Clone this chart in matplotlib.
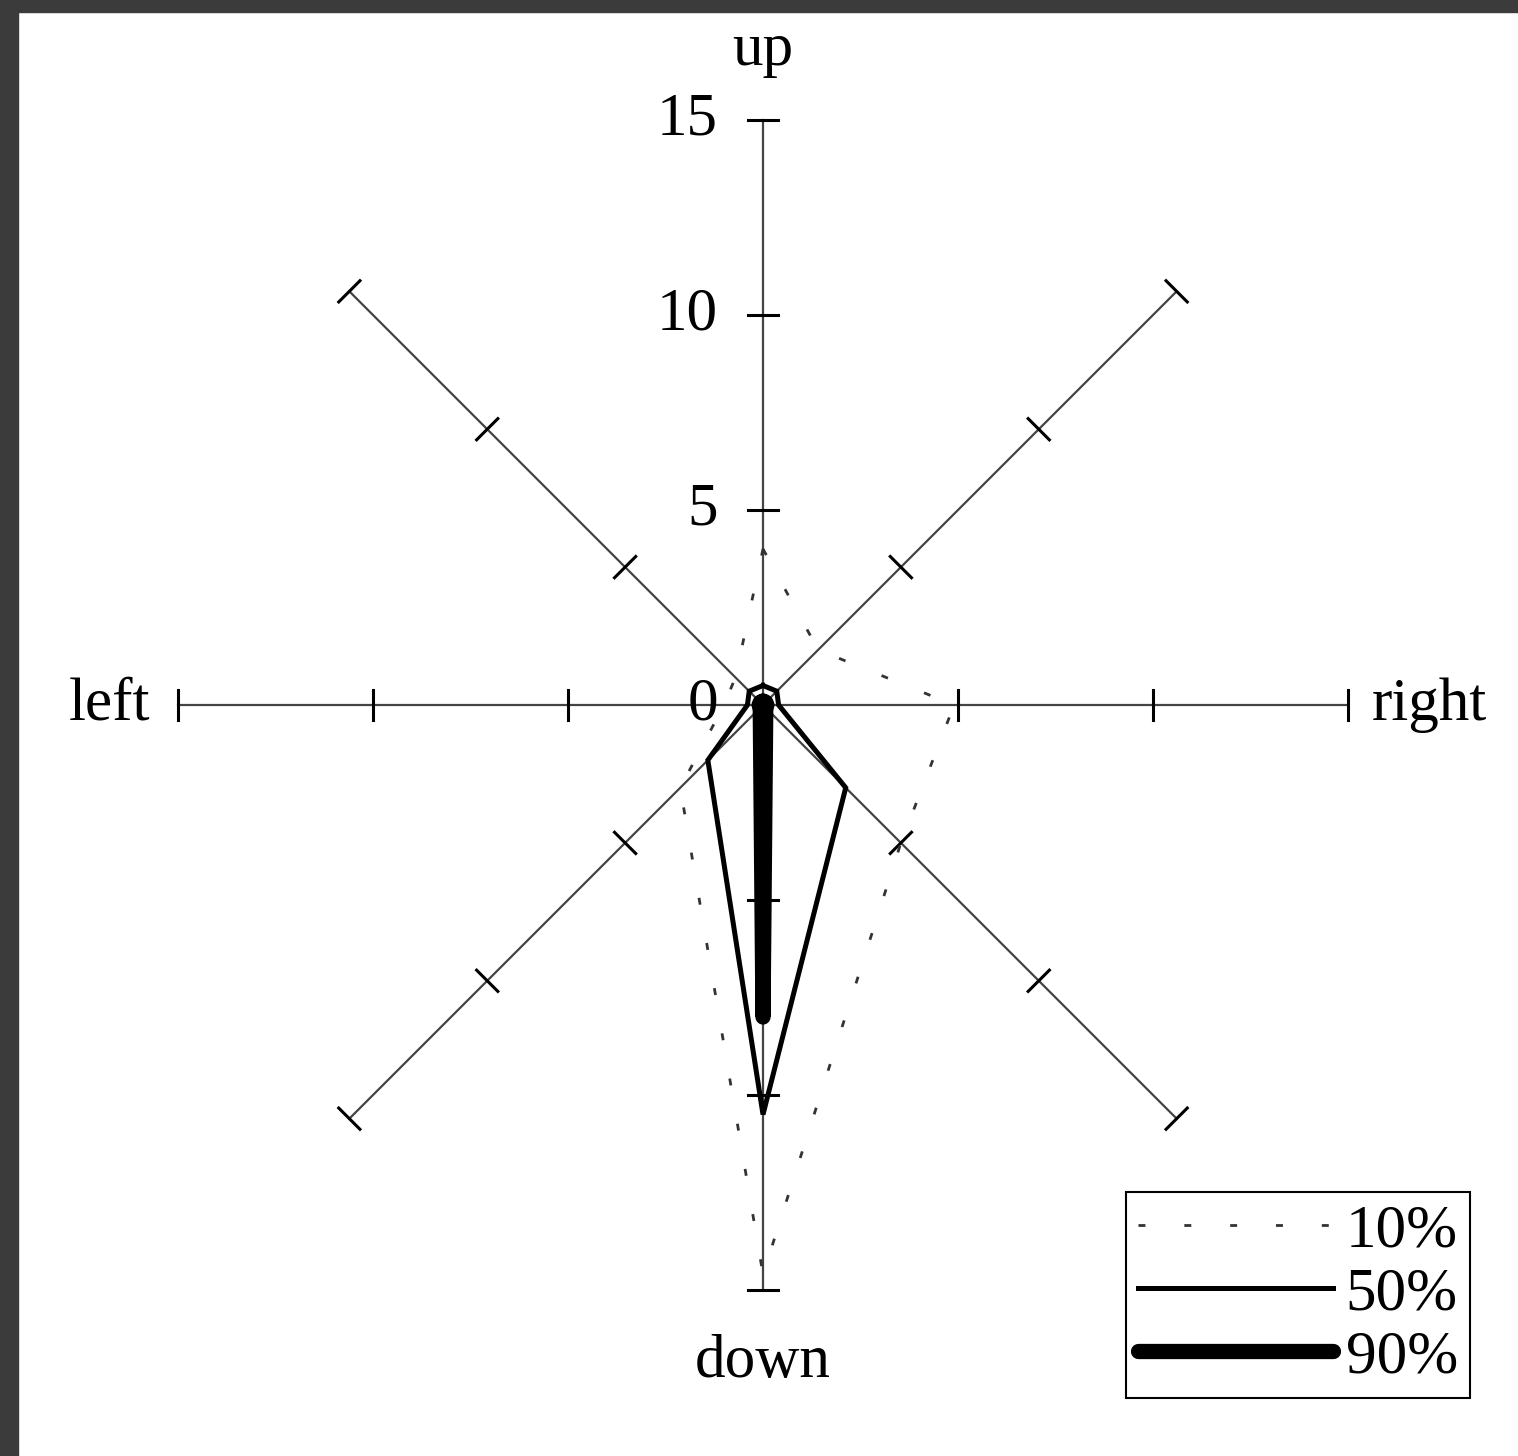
import numpy as np
import matplotlib
matplotlib.use('Agg')
import matplotlib.pyplot as plt
from matplotlib.patches import Rectangle

plt.rcParams['font.family'] = ['Liberation Serif', 'DejaVu Serif']

# directions of the 8 axes (degrees, counter-clockwise from right)
directions = ['up', 'up-right', 'right', 'down-right', 'down', 'down-left', 'left', 'up-left']
angles = [90, 45, 0, -45, -90, -135, 180, 135]
ticks = [5, 10, 15]
tick_labels = ['5', '10', '15']

# percentiles
p10 = [4.0, 2.0, 4.9, 5.0, 14.6, 3.0, 1.0, 1.0]
p50 = [0.5, 0.5, 0.4, 3.0, 10.5, 2.0, 0.4, 0.5]
p90 = [0.1, 0.1, 0.1, 0.1, 8.0, 0.1, 0.1, 0.1]

W, H, dpi = 1518, 1456, 100
cx, cy, scale = 763, 705, 39.0   # centre in pixels, pixels per unit

fig = plt.figure(figsize=(W / dpi, H / dpi), dpi=dpi)
ax = fig.add_axes([0, 0, 1, 1])
ax.set_xlim(-cx / scale, (W - cx) / scale)
ax.set_ylim(-(H - cy) / scale, cy / scale)
ax.axis('off')

th = np.deg2rad(angles)
tl = 15 / scale  # half tick length

# axes with ticks
for a in th:
    ax.plot([0, 15 * np.cos(a)], [0, 15 * np.sin(a)], color='#444444', lw=1.6, zorder=1)
    px, py = -np.sin(a), np.cos(a)
    for t in ticks:
        x0, y0 = t * np.cos(a), t * np.sin(a)
        ax.plot([x0 - tl * px, x0 + tl * px], [y0 - tl * py, y0 + tl * py],
                color='black', lw=2.2, zorder=1)

# value labels on up axis
fs = 44
for t, lab in zip(ticks, tick_labels):
    ax.text(-45 / scale, t, lab, ha='right', va='center', fontsize=fs)
ax.text(-45 / scale, 0, '0', ha='right', va='center', fontsize=fs)

# direction names
ax.text(0, (cy - 50) / scale, 'up', ha='center', va='center', fontsize=fs)
ax.text(0, -(1362 - cy) / scale, 'down', ha='center', va='center', fontsize=fs)
ax.text((150 - cx) / scale, 0, 'left', ha='right', va='center', fontsize=fs)
ax.text((1372 - cx) / scale, 0, 'right', ha='left', va='center', fontsize=fs)


def closed(vals):
    v = np.array(vals + vals[:1])
    a = np.append(th, th[0])
    return v * np.cos(a), v * np.sin(a)


x, y = closed(p10)
ax.plot(x, y, color='#333333', lw=2, linestyle=(0, (2.5, 14)), label='10%', zorder=3)
x, y = closed(p50)
ax.plot(x, y, color='black', lw=3.6, solid_joinstyle='miter', label='50%', zorder=3)
x, y = closed(p90)
ax.plot(x, y, color='black', lw=11, solid_capstyle='round', solid_joinstyle='round',
        label='90%', zorder=3)

leg = ax.legend(loc='lower right', bbox_to_anchor=(1470 / W, 1 - 1398 / H),
                fontsize=fs, frameon=True, fancybox=False, edgecolor='black',
                framealpha=1, handlelength=3.2, handletextpad=0.2,
                labelspacing=0.12, borderpad=0.2, borderaxespad=0)
leg.get_frame().set_linewidth(1.5)

# dark window border
fig.patches.append(Rectangle((0, 1 - 12 / H), 1, 12 / H, transform=fig.transFigure,
                             color='#3b3b3b', zorder=10))
fig.patches.append(Rectangle((0, 0), 18 / W, 1, transform=fig.transFigure,
                             color='#3b3b3b', zorder=10))

fig.savefig('out.png', dpi=dpi)
